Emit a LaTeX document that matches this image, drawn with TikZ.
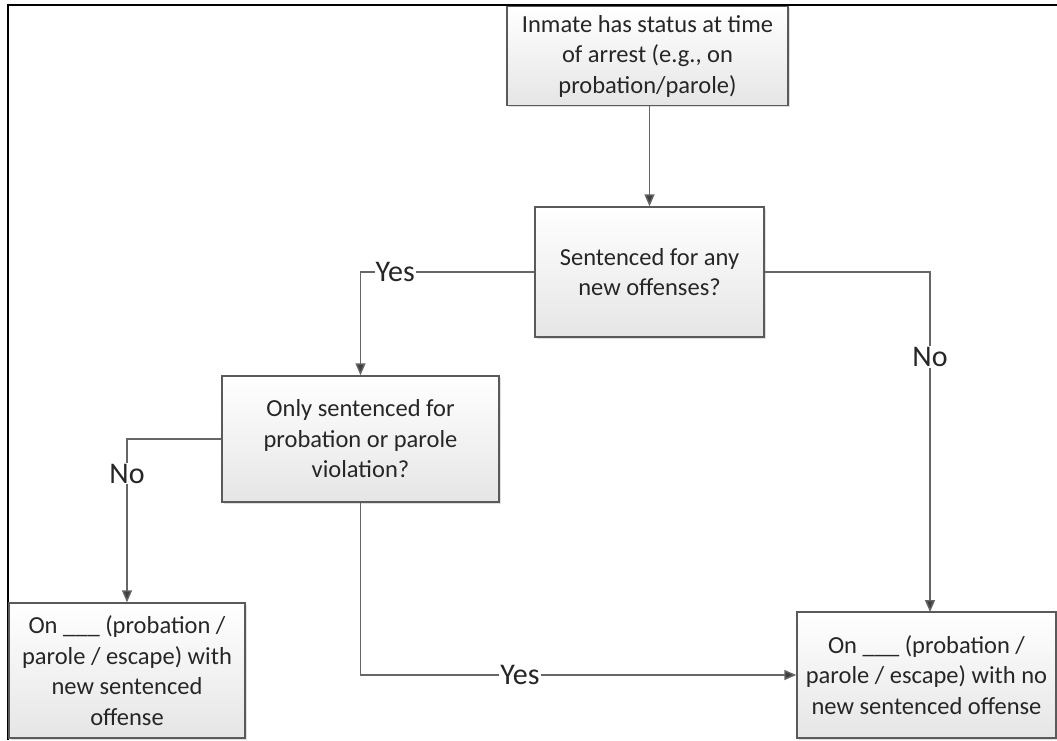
\documentclass[tikz,border=0pt]{standalone}
\usepackage{fontspec}
\setmainfont{Carlito}
\usetikzlibrary{arrows.meta,shadows}
\definecolor{boxline}{HTML}{5A5A5A}
\definecolor{conn}{HTML}{666666}
\tikzset{
  fbox/.style={draw=boxline, line width=1.4pt, top color=white, bottom color=black!10,
    drop shadow={shadow xshift=1.5pt, shadow yshift=-1.5pt, opacity=0.25},
    align=center, font=\fontsize{24.5}{30.5}\selectfont, text=black!85, inner sep=3pt},
  conn/.style={draw=conn, line width=1.4pt, -{Triangle[width=10pt,length=12pt,fill=black!75]}},
  lbl/.style={fill=white, inner sep=1pt, font=\fontsize{30}{34}\selectfont, text=black!85}
}
\begin{document}
\begin{tikzpicture}[x=1pt,y=-1pt]
\useasboundingbox (0,0) rectangle (1057,740);
\fill[white] (0,0) rectangle (1057,740);
\draw[black, line width=2pt] (8,740) -- (8,5.3) -- (1057,5.3);
\node[fbox, minimum width=281pt, minimum height=99pt] (b1) at (647.5,56)
  {Inmate has status at time\\of arrest (e.g., on\\probation/parole)};
\node[fbox, minimum width=229pt, minimum height=130pt] (b2) at (649.5,272)
  {Sentenced for any\\new offenses?};
\node[fbox, minimum width=277pt, minimum height=126pt] (b3) at (360.5,439)
  {Only sentenced for\\probation or parole\\violation?};
\node[fbox, minimum width=236pt, minimum height=135pt] (b4) at (127,670.5)
  {On \_\_\_\ (probation /\\parole / escape) with\\new sentenced\\offense};
\node[fbox, minimum width=259pt, minimum height=126pt] (b5) at (926.5,675)
  {On \_\_\_\ (probation /\\parole / escape) with no\\new sentenced offense};
\coordinate (c5) at (930,612);
\draw[conn] (b2.north |- b1.south) -- (b2.north);
\draw[conn] (b2.west) -| node[lbl, pos=0.4] {Yes} (b3.north);
\draw[conn] (b2.east) -| node[lbl, pos=0.625] {No} (c5);
\draw[conn] (b3.west) -| node[lbl, pos=0.606] {No} (b4.north);
\draw[conn] (b3.south) |- node[lbl, pos=0.683] {Yes} (b5.west);
\end{tikzpicture}
\end{document}
